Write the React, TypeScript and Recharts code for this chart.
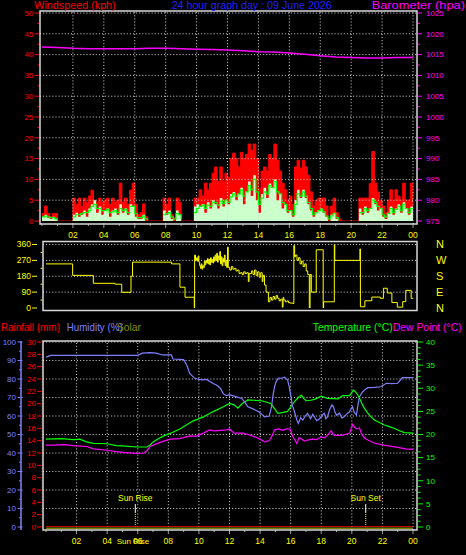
import React from 'react';
import { ComposedChart, LineChart, Line, Area, XAxis, YAxis, ReferenceLine } from 'recharts';

const FONT = '"Liberation Sans", Arial, sans-serif';

// ---------- axis ticks / labels ----------
const hourTicks = [0, 1, 2, 3, 4, 5, 6, 7, 8, 9, 10, 11, 12, 13, 14, 15, 16, 17, 18, 19, 20, 21, 22, 23, 24];
const gridHours = [2, 4, 6, 8, 10, 12, 14, 16, 18, 20, 22, 24];
const windTicks = [0, 2.5, 5, 7.5, 10, 12.5, 15, 17.5, 20, 22.5, 25, 27.5, 30, 32.5, 35, 37.5, 40, 42.5, 45, 47.5, 50];
const windGrid = [5, 10, 15, 20, 25, 30, 35, 40, 45, 50];
const baroTicks = [975, 977.5, 980, 982.5, 985, 987.5, 990, 992.5, 995, 997.5, 1000, 1002.5, 1005, 1007.5, 1010, 1012.5, 1015, 1017.5, 1020, 1022.5, 1025];
const dirTicks = [0, 45, 90, 135, 180, 225, 270, 315, 360];
const dirGrid = [90, 180, 270, 360];
const compassTicks = [0, 90, 180, 270, 360];
const compassLabels: Record<number, string> = { 0: 'N', 90: 'E', 180: 'S', 270: 'W', 360: 'N' };
const humTicks = [0, 5, 10, 15, 20, 25, 30, 35, 40, 45, 50, 55, 60, 65, 70, 75, 80, 85, 90, 95, 100];
const humGrid = [10, 20, 30, 40, 50, 60, 70, 80, 90, 100];
const rainTicks = Array.from({ length: 61 }, (_, i) => i * 0.5);
const tempTicks = Array.from({ length: 33 }, (_, i) => i * 1.25);
const sunRiseHour = 5.84;
const sunSetHour = 20.91;

// ---------- wind (10-minute samples, kph) ----------
const gust = [
  1.8, 3.6, 1.8, 1.0, 1.8, 1.8,
  0, 0, 0, 0, 0, 0,
  5.5, 4.0, 5.5, 3.5, 5.5, 4.5, 6.0, 7.4, 5.0, 4.5, 5.5, 4.5,
  5.0, 5.5, 4.0, 5.5, 4.5, 5.0, 9.1, 4.5, 5.5, 4.0, 7.4, 9.1,
  4.0, 1.5, 2.0, 4.1, 1.0, 0, 0, 0, 0, 0, 0, 5.5,
  4.0, 5.5, 1.5, 0.7, 5.5, 4.5, 0, 0, 0, 0, 0, 5.5,
  5.5, 7.5, 6.0, 9.1, 7.5, 9.1, 11.5, 13.0, 9.5, 13.0, 9.5, 11.5,
  10.5, 15.0, 16.3, 15.0, 13.0, 16.5, 15.0, 16.0, 18.5, 17.0, 18.5, 15.0,
  7.7, 12.0, 13.0, 12.0, 16.0, 15.0, 18.5, 14.6, 12.0, 9.1, 7.5, 5.0,
  6.0, 4.0, 13.0, 14.6, 12.7, 14.6, 13.0, 11.0, 7.0, 3.6, 5.0, 5.5,
  5.5, 5.5, 3.6, 0.7, 3.6, 5.5, 2.0, 0.5, 0, 0, 0, 0,
  0, 0, 0, 5.5, 5.5, 5.5, 5.5, 9.0, 16.7, 9.1, 7.0, 5.0,
  3.6, 2.0, 5.0, 7.5, 5.0, 7.5, 6.0, 5.0, 9.1, 5.0, 5.0, 9.1,
];
const avgWind = [
  1.0, 1.5, 0.8, 0.5, 1.0, 0.5,
  0, 0, 0, 0, 0, 0,
  1.5, 2.0, 1.0, 1.5, 2.5, 1.0, 3.0, 4.0, 5.0, 2.0, 3.5, 1.5,
  2.5, 3.0, 1.0, 2.5, 3.0, 1.5, 4.0, 2.0, 3.0, 1.5, 4.0, 3.5,
  1.0, 0.5, 0.5, 1.5, 0, 0, 0, 0, 0, 0, 0, 2.5,
  1.5, 2.5, 0.5, 0, 2.5, 1.5, 0, 0, 0, 0, 0, 3.5,
  4.0, 3.5, 4.0, 2.0, 4.5, 3.0, 5.0, 4.0, 3.0, 5.5, 3.5, 5.0,
  4.0, 6.5, 7.0, 5.0, 6.5, 8.0, 4.0, 7.0, 9.5, 6.0, 11.0, 5.0,
  2.0, 6.5, 8.0, 5.5, 9.0, 8.0, 10.0, 5.0, 6.5, 3.0, 4.0, 2.0,
  2.5, 1.0, 5.0, 7.5, 5.5, 7.5, 5.5, 4.0, 2.5, 1.0, 2.0, 2.5,
  3.0, 2.0, 1.0, 0, 1.5, 2.0, 0.5, 0, 0, 0, 0, 0,
  0, 0, 0, 3.0, 1.5, 3.5, 2.0, 3.0, 5.5, 4.0, 2.5, 3.0,
  1.0, 0.5, 2.0, 3.5, 1.5, 3.0, 4.0, 2.0, 4.5, 3.0, 1.5, 3.5,
];
const windLine: (number | null)[] = [
  1.0, 1.2, 1.0, 0.8, 0.8, 0.5,
  0.2, null, null, null, null, null,
  1.0, 1.5, 1.5, 1.8, 2.0, 2.0, 2.5, 3.5, 4.0, 3.0, 3.0, 2.5,
  2.5, 2.8, 2.0, 2.2, 2.5, 2.0, 3.0, 2.5, 2.8, 2.0, 3.5, 3.5,
  1.8, 0.8, 0.8, 1.2, 0.5, 0.2, null, null, null, null, null, 1.5,
  1.8, 2.0, 1.0, 0.5, 1.8, 1.5, 0.5, null, null, null, null, 2.0,
  3.0, 3.5, 3.8, 3.0, 3.8, 3.5, 4.5, 4.5, 3.8, 4.8, 4.2, 5.0,
  4.5, 5.8, 6.5, 6.0, 6.5, 7.5, 6.0, 7.0, 8.5, 7.5, 10.0, 7.0,
  4.0, 5.5, 7.0, 6.5, 8.5, 8.0, 9.5, 7.0, 6.5, 4.5, 4.0, 2.5,
  2.5, 1.5, 4.0, 6.5, 6.0, 7.0, 6.0, 4.5, 3.0, 1.5, 2.0, 2.5,
  2.8, 2.2, 1.2, 0.5, 1.2, 1.8, 0.8, 0.2, null, null, null, null,
  null, null, null, 2.0, 2.0, 3.0, 2.5, 3.0, 5.0, 4.5, 3.5, 3.0,
  1.5, 1.0, 1.8, 3.0, 2.0, 2.8, 3.5, 2.5, 4.0, 3.0, 2.0, 3.0,
];

// ---------- barometer (hourly, hPa) ----------
const baroHpa = [1016.8, 1016.7, 1016.5, 1016.4, 1016.4, 1016.4, 1016.4, 1016.5, 1016.5, 1016.4, 1016.3, 1016.2, 1016.1, 1015.9, 1015.7, 1015.6, 1015.4, 1015.1, 1014.7, 1014.4, 1014.3, 1014.2, 1014.2, 1014.3, 1014.3];

// ---------- wind direction [hour, degrees] ----------
const windDir: [number, number][] = [
  [0.2, 250], [1.92, 185], [3.26, 140], [4.66, 135], [5.1, 89], [5.7, 180], [5.8, 260], [8.33, 250], [8.87, 118], [9.2, 61],
  [9.8, 0], [9.82, 300], [9.88, 270], [9.95, 285], [10.0, 265], [10.05, 295], [10.1, 260], [10.15, 240], [10.2, 225], [10.25, 250],
  [10.3, 220], [10.35, 240], [10.4, 230], [10.45, 265], [10.5, 245], [10.55, 270], [10.6, 255], [10.65, 280], [10.7, 250], [10.75, 275],
  [10.8, 245], [10.85, 285], [10.9, 260], [10.95, 275], [11.0, 255], [11.05, 290], [11.1, 265], [11.15, 300], [11.2, 270], [11.25, 310],
  [11.3, 260], [11.35, 295], [11.4, 275], [11.45, 320], [11.5, 250], [11.55, 290], [11.6, 240], [11.65, 280], [11.7, 260], [11.75, 300],
  [11.8, 240], [11.85, 270], [11.9, 230], [11.95, 345], [12.0, 230], [12.1, 215], [12.2, 235], [12.3, 220], [12.4, 225], [12.5, 210],
  [12.6, 215], [12.7, 195], [12.8, 200], [12.9, 190], [13.0, 205], [13.1, 195], [13.2, 200], [13.3, 150], [13.35, 195], [13.5, 210],
  [13.6, 190], [13.7, 215], [13.8, 185], [13.9, 205], [14.0, 175], [14.1, 200], [14.2, 150], [14.25, 185], [14.35, 130], [14.45, 90],
  [14.6, 35], [14.7, 60], [14.8, 45], [14.9, 65], [15.0, 50], [15.1, 70], [15.2, 55], [15.3, 40], [15.4, 50], [15.5, 5],
  [15.55, 60], [15.6, 45], [15.7, 35], [15.8, 40], [15.9, 30], [16.0, 28], [16.2, 25], [16.25, 355], [16.3, 290], [16.35, 300],
  [16.45, 270], [16.55, 285], [16.65, 250], [16.75, 265], [16.85, 235], [16.95, 250], [17.05, 210], [17.15, 190], [17.25, 0], [17.3, 190],
  [17.38, 90], [17.7, 330], [18.15, 0], [18.18, 35], [18.87, 360], [18.9, 270], [20.53, 335], [20.56, 7], [20.85, 41], [21.3, 62],
  [21.85, 55], [22.05, 112], [22.3, 85], [22.6, 31], [22.95, 5], [23.3, 36], [23.5, 100], [23.85, 55], [24.0, 55],
];

// ---------- humidity / temperature / dew point [hour, value] ----------
const humidity: [number, number][] = [
  [0, 91.8], [0.3, 92.8], [6.0, 92.8], [6.3, 94.0], [6.8, 94.3], [7.2, 94.0], [7.6, 93.0], [8.2, 93.0], [8.3, 90.8], [9.0, 90.5],
  [9.2, 87.6], [9.4, 83.0], [9.7, 80.5], [9.9, 80.0], [10.2, 79.5], [10.5, 79.8], [10.9, 77.7], [11.2, 76.5], [11.4, 75.0], [11.6, 72.0],
  [11.8, 71.0], [12.0, 71.5], [12.4, 70.5], [12.8, 69.5], [13.0, 67.5], [13.2, 65.0], [13.5, 64.0], [13.9, 62.3], [14.1, 61.0], [14.3, 59.6],
  [14.6, 60.0], [14.75, 65.0], [14.85, 71.4], [14.95, 76.0], [15.05, 78.6], [15.2, 80.5], [15.4, 80.4], [15.6, 81.0], [15.8, 79.5], [15.9, 76.0],
  [16.0, 71.4], [16.1, 66.0], [16.25, 62.3], [16.4, 58.0], [16.5, 56.0], [16.65, 59.0], [16.8, 57.8], [16.95, 60.0], [17.1, 61.5], [17.3, 58.5],
  [17.45, 61.0], [17.55, 59.6], [17.7, 57.5], [17.9, 58.5], [18.05, 60.5], [18.2, 61.5], [18.3, 58.5], [18.4, 59.5], [18.55, 63.5], [18.7, 66.0],
  [18.8, 65.0], [18.9, 62.0], [19.0, 60.5], [19.2, 61.5], [19.35, 59.0], [19.5, 59.6], [19.65, 61.0], [19.85, 62.3], [19.95, 64.0], [20.05, 65.0],
  [20.15, 62.0], [20.3, 60.5], [20.4, 66.0], [20.5, 70.4], [20.7, 73.0], [20.9, 74.5], [21.05, 75.3], [21.5, 75.5], [21.9, 75.8], [22.25, 77.7],
  [22.6, 77.5], [23.0, 77.7], [23.3, 80.7], [24.0, 80.7],
];
const temperature: [number, number][] = [
  [0, 19.0], [1.0, 19.1], [1.8, 18.9], [2.2, 19.0], [2.65, 18.4], [3.1, 18.1], [4.0, 18.0], [4.6, 17.6], [5.2, 17.5], [5.9, 17.3],
  [6.6, 17.3], [6.8, 17.7], [7.0, 18.4], [7.4, 19.2], [7.7, 19.7], [8.3, 20.5], [8.75, 21.2], [9.2, 22.1], [9.6, 22.9], [10.3, 23.8],
  [10.9, 24.9], [11.6, 26.0], [12.0, 26.7], [12.3, 26.4], [12.55, 25.7], [12.8, 26.6], [13.2, 27.5], [13.6, 27.4], [14.1, 27.3], [14.7, 26.7],
  [14.9, 25.8], [15.15, 24.6], [15.5, 24.8], [15.8, 25.0], [16.0, 26.0], [16.25, 27.1], [16.5, 28.0], [16.7, 28.5], [16.85, 27.8], [17.0, 27.3],
  [17.3, 27.4], [17.55, 27.6], [18.0, 28.3], [18.4, 27.8], [19.1, 27.7], [19.4, 28.4], [19.85, 28.4], [20.1, 29.6], [20.25, 29.2], [20.4, 28.5],
  [20.55, 27.5], [20.7, 26.4], [20.85, 25.5], [21.05, 24.6], [21.25, 23.8], [21.5, 23.1], [21.8, 22.6], [22.1, 22.1], [22.45, 21.7], [22.8, 21.3],
  [23.1, 20.8], [23.45, 20.4], [24.0, 20.3],
];
const dewPoint: [number, number][] = [
  [0, 17.7], [0.5, 17.7], [1.2, 17.8], [1.8, 17.6], [2.65, 17.4], [3.1, 16.9], [4.0, 16.6], [4.6, 16.3], [5.2, 16.1], [5.9, 15.9],
  [6.4, 16.0], [6.6, 16.5], [6.8, 17.4], [7.1, 17.8], [7.45, 18.3], [8.1, 19.0], [8.75, 19.1], [9.4, 19.7], [9.8, 19.6], [10.3, 20.3],
  [10.7, 21.0], [11.0, 20.8], [11.4, 20.9], [11.8, 21.0], [12.0, 21.2], [12.3, 20.3], [12.9, 20.3], [13.3, 19.9], [13.65, 19.5], [14.0, 19.0],
  [14.3, 18.4], [14.6, 18.7], [14.8, 19.8], [14.95, 21.0], [15.2, 21.2], [15.5, 20.9], [15.7, 21.2], [15.95, 21.2], [16.15, 19.5], [16.4, 18.1],
  [16.55, 19.3], [16.7, 19.1], [16.9, 18.6], [17.1, 18.8], [17.4, 19.0], [17.7, 18.9], [18.0, 19.5], [18.2, 19.3], [18.4, 19.8], [18.65, 20.8],
  [18.8, 19.9], [19.0, 19.8], [19.3, 19.8], [19.6, 20.0], [19.85, 20.3], [20.05, 22.2], [20.2, 21.5], [20.3, 21.2], [20.5, 21.4], [20.6, 20.5],
  [20.7, 19.8], [20.85, 19.2], [21.05, 18.8], [21.5, 18.1], [22.1, 17.7], [23.0, 17.2], [23.5, 16.9], [24.0, 16.8],
];
const rainfall: [number, number][] = [[0, 0], [24, 0]];
const solar: [number, number][] = [[0, 0], [24, 0]];

// ---------- tables built from the arrays ----------
const windData = gust.map((g, i) => ({ h: i / 6, gust: g, avg: avgWind[i], line: windLine[i] }));
windData.push({ h: 24, gust: gust[gust.length - 1], avg: avgWind[avgWind.length - 1], line: windLine[windLine.length - 1] });
const baroData = baroHpa.map((p, i) => ({ h: hourTicks[i], p }));
const dirData = windDir.map(([h, d]) => ({ h, d }));
const toXY = (arr: [number, number][]) => arr.map(([h, v]) => ({ h, v }));
const humData = toXY(humidity);
const tempData = toXY(temperature);
const dewData = toXY(dewPoint);
const rainData = toXY(rainfall);
const solarData = toXY(solar);

// ---------- tick renderers ----------
type TickOpts = {
  side: 'left' | 'right';
  color: string;
  size: number;
  margin: number;
  fontSize: number;
  major: (v: number) => boolean;
  label: (v: number) => string | null;
  majorFrom: number;
  majorTo: number;
  minorFrom: number;
  minorTo: number;
};
function yTick(o: TickOpts) {
  return (props: any) => {
    const { x, y, payload } = props;
    const v = Number(payload.value);
    const s = o.side === 'left' ? -1 : 1;
    const edge = o.side === 'left' ? x + o.margin + o.size : x - o.margin - o.size;
    const isMaj = o.major(v);
    const a = isMaj ? o.majorFrom : o.minorFrom;
    const b = isMaj ? o.majorTo : o.minorTo;
    const lab = o.label(v);
    return (
      <g>
        {b > a && <line x1={edge + s * a} x2={edge + s * b} y1={y} y2={y} stroke={o.color} strokeWidth={1} />}
        {lab !== null && (
          <text x={x} y={y} dy="0.35em" textAnchor={o.side === 'left' ? 'end' : 'start'} fill={o.color} fontSize={o.fontSize} fontFamily={FONT}>
            {lab}
          </text>
        )}
      </g>
    );
  };
}
function rainTick(props: any) {
  const { x, y, payload } = props;
  const v = Number(payload.value);
  const edge = x + 7;
  const isEven = Math.abs(v - Math.round(v)) < 1e-6 && Math.round(v) % 2 === 0;
  return (
    <g>
      <line x1={edge - 1.6} x2={edge - 0.6} y1={y} y2={y} stroke="#ff0000" strokeWidth={1} />
      {isEven && <line x1={edge - 6} x2={edge - 2} y1={y} y2={y} stroke="#ff0000" strokeWidth={1} />}
      {isEven && (
        <text x={x} y={y} dy="0.35em" textAnchor="end" fill="#ff0000" fontSize={8} fontFamily={FONT}>
          {String(Math.round(v))}
        </text>
      )}
    </g>
  );
}
function xTick(color: string, fontSize: number, baseline: number) {
  return (props: any) => {
    const { x, y, payload } = props;
    const h = Number(payload.value);
    const top = y - 7;
    const even = h % 2 === 0 && h > 0;
    return (
      <g>
        <line x1={x} x2={x} y1={top} y2={top + (even ? 4 : 2)} stroke="#a0a0a0" strokeWidth={1} />
        {even && (
          <text x={x} y={top + baseline} textAnchor="middle" fill={color} fontSize={fontSize} fontFamily={FONT}>
            {h === 24 ? '00' : String(h).padStart(2, '0')}
          </text>
        )}
      </g>
    );
  };
}

const GRID = '#d8d8d8';
const DASH = '1 2.1';

export default function App() {
  return (
    <div style={{ position: 'absolute', left: 0, top: 0, width: 466, height: 555, background: '#000', overflow: 'hidden' }}>
      {/* Panel 1: wind speed + barometer */}
      <div style={{ position: 'absolute', left: 0, top: 0 }}>
        <ComposedChart width={466} height={250} data={windData} margin={{ top: 11, right: 19, bottom: 6, left: 10 }}>
          <XAxis dataKey="h" type="number" domain={[0, 24]} ticks={hourTicks} interval={0} padding={{ left: 2, right: 4 }} height={20}
            axisLine={false} tickLine={false} tickSize={4} tickMargin={3} tick={xTick('#ffff00', 8.5, 14)} allowDataOverflow />
          <YAxis yAxisId="wind" orientation="left" width={30} domain={[0, 50]} ticks={windTicks} interval={0} padding={{ top: 2, bottom: 3 }}
            axisLine={false} tickLine={false} tickSize={5} tickMargin={1.5} allowDataOverflow
            tick={yTick({ side: 'left', color: '#ff0000', size: 5, margin: 1.5, fontSize: 8, major: (v) => v % 5 === 0, label: (v) => (v % 5 === 0 ? String(v) : null), majorFrom: 1, majorTo: 5.5, minorFrom: 0.5, minorTo: 2.5 })} />
          <YAxis yAxisId="baro" orientation="right" width={30} domain={[975, 1025]} ticks={baroTicks} interval={0} padding={{ top: 2, bottom: 3 }}
            axisLine={false} tickLine={false} tickSize={5} tickMargin={4} allowDataOverflow
            tick={yTick({ side: 'right', color: '#ff00ff', size: 5, margin: 4, fontSize: 8, major: (v) => v % 5 === 0, label: (v) => (v % 5 === 0 ? String(v) : null), majorFrom: 1, majorTo: 5, minorFrom: 1, minorTo: 3 })} />
          {windGrid.map((v) => (
            <ReferenceLine key={'wg' + v} yAxisId="wind" y={v} stroke={GRID} strokeDasharray={DASH} />
          ))}
          {gridHours.map((h) => (
            <ReferenceLine key={'wv' + h} yAxisId="wind" x={h} stroke={GRID} strokeDasharray={DASH} />
          ))}
          <Area yAxisId="wind" type="stepAfter" dataKey="gust" stroke="#ff0000" strokeWidth={1} fill="#ff0000" fillOpacity={1} dot={false} activeDot={false} isAnimationActive={false} />
          <Area yAxisId="wind" type="stepAfter" dataKey="avg" stroke="none" fill="#ccffcc" fillOpacity={1} dot={false} activeDot={false} isAnimationActive={false} />
          <Line yAxisId="wind" type="stepAfter" dataKey="line" stroke="#00ff00" strokeWidth={1.2} dot={false} activeDot={false} isAnimationActive={false} />
          <Line yAxisId="baro" data={baroData} type="linear" dataKey="p" stroke="#ff00ff" strokeWidth={1.5} dot={false} activeDot={false} isAnimationActive={false} />
        </ComposedChart>
      </div>

      {/* Panel 2: wind direction */}
      <div style={{ position: 'absolute', left: 0, top: 230 }}>
        <LineChart width={466} height={90} data={dirData} margin={{ top: 11.5, right: 19, bottom: 9.5, left: 13 }}>
          <XAxis dataKey="h" type="number" domain={[0, 24]} hide padding={{ left: 0, right: 3.5 }} allowDataOverflow />
          <YAxis yAxisId="dir" orientation="left" width={30} domain={[0, 360]} ticks={dirTicks} interval={0} padding={{ top: 3, bottom: 2.5 }}
            axisLine={false} tickLine={false} tickSize={9} tickMargin={3} allowDataOverflow
            tick={yTick({ side: 'left', color: '#ffff00', size: 9, margin: 3, fontSize: 8.5, major: (v) => v % 90 === 0, label: (v) => (v % 90 === 0 ? String(v) : null), majorFrom: 6, majorTo: 11, minorFrom: 0.5, minorTo: 2.5 })} />
          <YAxis yAxisId="dirR" orientation="right" width={30} domain={[0, 360]} ticks={compassTicks} interval={0} padding={{ top: 3, bottom: 2.5 }}
            axisLine={false} tickLine={false} tickSize={0} tickMargin={19} allowDataOverflow
            tick={yTick({ side: 'right', color: '#ffff00', size: 0, margin: 19, fontSize: 11, major: () => true, label: (v) => compassLabels[v] ?? null, majorFrom: 0, majorTo: 0, minorFrom: 0, minorTo: 0 })} />
          {dirGrid.map((v) => (
            <ReferenceLine key={'dg' + v} yAxisId="dir" y={v} stroke={GRID} strokeDasharray={DASH} />
          ))}
          <Line yAxisId="dir" type="stepAfter" dataKey="d" stroke="#ffff00" strokeWidth={1} dot={false} activeDot={false} isAnimationActive={false} />
        </LineChart>
      </div>

      {/* Panel 3: rain / humidity / temperature / dew point */}
      <div style={{ position: 'absolute', left: 0, top: 320 }}>
        <ComposedChart width={466} height={235} margin={{ top: 21, right: 19, bottom: 5, left: 0 }}>
          <XAxis dataKey="h" type="number" domain={[0, 24]} ticks={hourTicks} interval={0} padding={{ left: 3, right: 4 }} height={20}
            axisLine={false} tickLine={false} tickSize={4} tickMargin={3} tick={xTick('#ffff00', 8.5, 14.3)} allowDataOverflow />
          <YAxis yAxisId="mm" orientation="left" width={22} domain={[0, 30]} ticks={rainTicks} interval={0} padding={{ top: 1, bottom: 3 }}
            axisLine={false} tickLine={false} tickSize={5} tickMargin={2} tick={rainTick} allowDataOverflow />
          <YAxis yAxisId="pct" orientation="left" width={21} domain={[0, 100]} ticks={humTicks} interval={0} padding={{ top: 1, bottom: 3 }}
            axisLine={{ stroke: '#8080ff', strokeWidth: 1.5 }} tickLine={false} tickSize={4} tickMargin={1} allowDataOverflow
            tick={yTick({ side: 'left', color: '#8080ff', size: 4, margin: 1, fontSize: 8, major: (v) => v % 10 === 0, label: (v) => (v % 10 === 0 ? String(v) : null), majorFrom: -1.5, majorTo: 3.5, minorFrom: 0, minorTo: 2 })} />
          <YAxis yAxisId="temp" orientation="right" width={30} domain={[0, 40]} ticks={tempTicks} interval={0} padding={{ top: 1, bottom: 3 }}
            axisLine={false} tickLine={false} tickSize={6} tickMargin={3} allowDataOverflow
            tick={yTick({ side: 'right', color: '#00ff00', size: 6, margin: 3, fontSize: 8, major: (v) => v % 5 === 0, label: (v) => (v % 5 === 0 ? String(v) : null), majorFrom: 1, majorTo: 6, minorFrom: 1, minorTo: 3.5 })} />
          <YAxis yAxisId="solar" hide domain={[0, 1000]} padding={{ top: 1, bottom: 1.5 }} allowDataOverflow />
          {humGrid.map((v) => (
            <ReferenceLine key={'hg' + v} yAxisId="pct" y={v} stroke={GRID} strokeDasharray={DASH} />
          ))}
          {gridHours.map((h) => (
            <ReferenceLine key={'hv' + h} yAxisId="pct" x={h} stroke={GRID} strokeDasharray={DASH} />
          ))}
          <ReferenceLine yAxisId="pct" segment={[{ x: sunRiseHour, y: 0 }, { x: sunRiseHour, y: 7.6 }]} stroke="#ffff00" strokeDasharray="1 1" />
          <ReferenceLine yAxisId="pct" segment={[{ x: sunRiseHour, y: 7.6 }, { x: sunRiseHour, y: 12.4 }]} stroke="#ffffff"
            label={{ value: 'Sun Rise', position: 'top', offset: 3.5, fill: '#ffff00', fontSize: 8.5, fontFamily: FONT }} />
          <ReferenceLine yAxisId="pct" segment={[{ x: sunSetHour, y: 0 }, { x: sunSetHour, y: 7.6 }]} stroke="#ffff00" strokeDasharray="1 1" />
          <ReferenceLine yAxisId="pct" segment={[{ x: sunSetHour, y: 7.6 }, { x: sunSetHour, y: 12.4 }]} stroke="#ffffff"
            label={{ value: 'Sun Set', position: 'top', offset: 3.5, fill: '#ffff00', fontSize: 8.5, fontFamily: FONT }} />
          <Line yAxisId="solar" data={solarData} type="linear" dataKey="v" stroke="#ffff00" strokeWidth={1.5} dot={false} activeDot={false} isAnimationActive={false} />
          <Line yAxisId="mm" data={rainData} type="linear" dataKey="v" stroke="#ff0000" strokeWidth={1.5} dot={false} activeDot={false} isAnimationActive={false} />
          <Line yAxisId="temp" data={dewData} type="linear" dataKey="v" stroke="#ff00ff" strokeWidth={1.2} dot={false} activeDot={false} isAnimationActive={false} />
          <Line yAxisId="temp" data={tempData} type="linear" dataKey="v" stroke="#00ff00" strokeWidth={1.2} dot={false} activeDot={false} isAnimationActive={false} />
          <Line yAxisId="pct" data={humData} type="linear" dataKey="v" stroke="#8080ff" strokeWidth={1.2} dot={false} activeDot={false} isAnimationActive={false} />
        </ComposedChart>
      </div>

      {/* frames and headings */}
      <svg width={466} height={555} style={{ position: 'absolute', left: 0, top: 0, pointerEvents: 'none' }}>
        <rect x={40} y={11} width={377} height={213} fill="none" stroke="#d8d8d8" strokeWidth={1.5} />
        <rect x={43} y={241.5} width={374} height={69} fill="none" stroke="#d8d8d8" strokeWidth={1.5} />
        <rect x={43} y={341} width={374} height={189} fill="none" stroke="#d8d8d8" strokeWidth={1.5} />
        <g fontFamily={FONT} fontSize={10.7}>
          <text x={34.3} y={9} fill="#ff0000" textLength={81.4} lengthAdjust="spacingAndGlyphs">Windspeed (kph)</text>
          <text x={171.7} y={9} fill="#2020ff" textLength={160} lengthAdjust="spacingAndGlyphs">24 hour graph day : 09 June 2026</text>
          <text x={371.7} y={9} fill="#ff00ff" textLength={93.3} lengthAdjust="spacingAndGlyphs">Barometer (hpa)</text>
          <text x={0.7} y={330.5} fill="#ff0000" textLength={59.3} lengthAdjust="spacingAndGlyphs">Rainfall (mm)</text>
          <text x={66.7} y={330.5} fill="#8080ff" textLength={56} lengthAdjust="spacingAndGlyphs">Humidity (%)</text>
          <text x={116.7} y={330.5} fill="#8a8a00" textLength={24.3} lengthAdjust="spacingAndGlyphs">Solar</text>
          <text x={312.7} y={330.5} fill="#00ff00" textLength={80} lengthAdjust="spacingAndGlyphs">Temperature (°C)</text>
          <text x={392.7} y={330.5} fill="#ff00ff" textLength={69} lengthAdjust="spacingAndGlyphs">Dew Point (°C)</text>
        </g>
        <text x={133} y={544.3} fill="#ffff00" fontFamily={FONT} fontSize={8} textAnchor="middle">Sun Rise</text>
      </svg>
    </div>
  );
}
